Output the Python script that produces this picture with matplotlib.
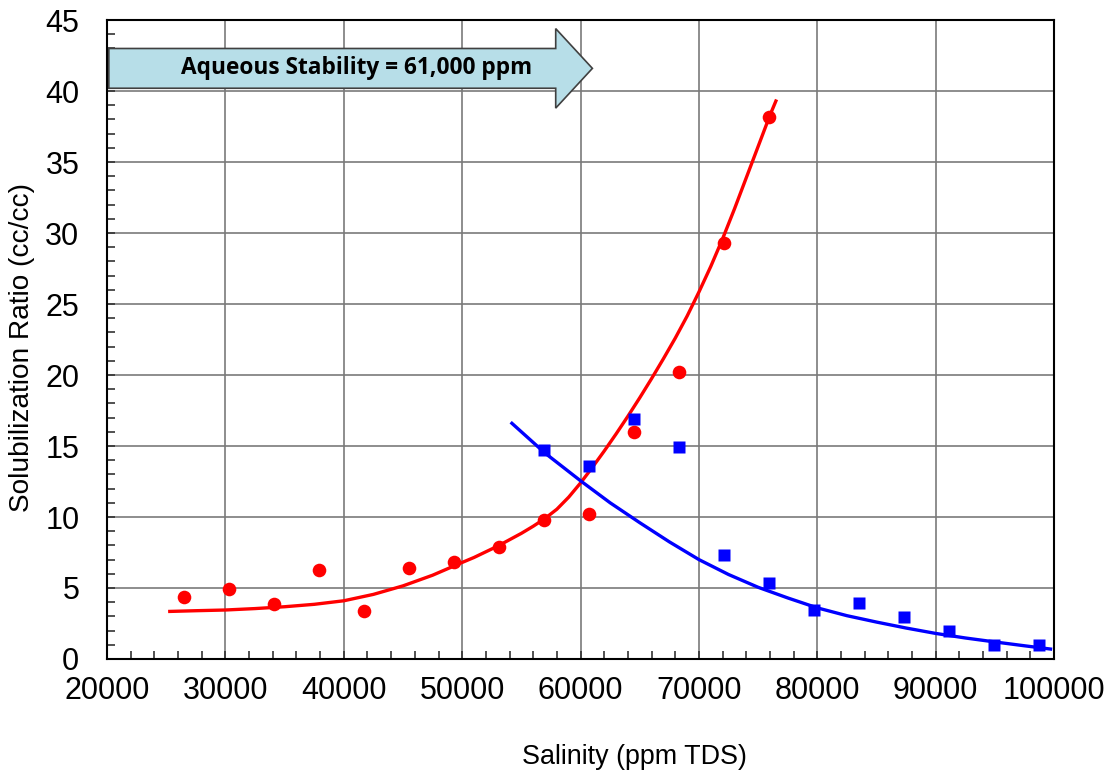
import matplotlib
matplotlib.use("Agg")
import matplotlib.pyplot as plt
from matplotlib.patches import FancyArrow

plt.rcParams['font.family'] = ['Liberation Sans', 'DejaVu Sans']

# measured data
red_x = [26500, 30300, 34100, 37900, 41700, 45500, 49300, 53100, 56900, 60700, 64500, 68300, 72100, 75900]
red_y = [4.37, 4.9, 3.87, 6.3, 3.4, 6.4, 6.8, 7.9, 9.8, 10.2, 16.0, 20.2, 29.3, 38.2]
blue_x = [56900, 60700, 64500, 68300, 72100, 75900, 79700, 83500, 87300, 91100, 94900, 98700]
blue_y = [14.7, 13.6, 16.9, 14.9, 7.35, 5.33, 3.47, 3.92, 2.94, 1.97, 0.99, 0.99]

# trend curves
red_fit_x = [25300, 27500, 30000, 32500, 35000, 37500, 40000, 42500, 45000, 47500, 50000,
             51000, 52000, 53000, 54000, 55000, 56000, 57000, 58000, 59000, 60000, 61000,
             62000, 63000, 64000, 65000, 66000, 67000, 68000, 69000, 70000, 71000, 72000,
             73000, 74000, 75000, 76000, 76500]
red_fit_y = [3.35, 3.4, 3.45, 3.55, 3.68, 3.85, 4.1, 4.55, 5.15, 5.9, 6.8,
             7.15, 7.55, 7.95, 8.4, 8.85, 9.35, 9.9, 10.55, 11.4, 12.4, 13.5,
             14.65, 15.85, 17.1, 18.4, 19.75, 21.15, 22.6, 24.15, 25.85, 27.65, 29.6,
             31.7, 33.9, 36.1, 38.3, 39.3]
blue_fit_x = [54200, 57000, 60000, 62500, 65000, 67500, 70000, 72500, 75000, 77500, 80000,
              82500, 85000, 87500, 90000, 92500, 95000, 97500, 99700]
blue_fit_y = [16.6, 14.5, 12.55, 11.0, 9.6, 8.25, 7.0, 5.95, 5.05, 4.3, 3.6,
              3.05, 2.6, 2.18, 1.8, 1.48, 1.2, 0.93, 0.7]

xticks = list(range(20000, 100001, 10000))
yticks = list(range(0, 46, 5))
stability = 61000
arrow_text = 'Aqueous Stability = 61,000 ppm'

fig = plt.figure(figsize=(11.07, 7.73), dpi=100)
ax = fig.add_axes([0.0967, 0.1475, 0.8555, 0.8265])

ax.plot(red_fit_x, red_fit_y, color='#ff0000', lw=2.4, zorder=3)
ax.plot(blue_fit_x, blue_fit_y, color='#0000ff', lw=2.4, zorder=3)
ax.plot(red_x, red_y, 'o', color='#ff0000', ms=9.8, mec='none', zorder=4)
ax.plot(blue_x, blue_y, 's', color='#0000ff', ms=9.3, mec='none', zorder=4)

ax.set_xlim(20000, 100000)
ax.set_ylim(0, 45)
ax.set_xticks(xticks)
ax.set_yticks(yticks)
ax.set_xticks(range(20000, 100001, 2000), minor=True)
ax.set_yticks(range(0, 46, 1), minor=True)
ax.grid(True, which='major', color='#7a7a7a', lw=1.2)
ax.set_axisbelow(True)
ax.tick_params(which='both', direction='in', length=6, width=1.2, color='#333333')
ax.tick_params(axis='y', which='major', labelsize=22, pad=20)
ax.tick_params(axis='x', which='major', labelsize=22, pad=12)
for s in ax.spines.values():
    s.set_color('black')
    s.set_linewidth(1.5)

ax.set_xlabel('Salinity (ppm TDS)', fontsize=19.4, va='center')
ax.set_ylabel('Solubilization Ratio (cc/cc)', fontsize=20.2, va='center')
ax.xaxis.set_label_coords(0.5565, -0.153)
ax.yaxis.set_label_coords(-0.09, 0.487)

arr = FancyArrow(20150, 41.6, stability - 20150, 0, width=2.8, head_width=5.6,
                 head_length=3100, length_includes_head=True,
                 facecolor='#b7dee8', edgecolor='#404040', lw=1.2, zorder=5)
ax.add_patch(arr)
ax.text(41100, 41.6, arrow_text, ha='center', va='center', fontsize=16.3,
        fontweight='bold', family=['Open Sans', 'DejaVu Sans'], zorder=6)

fig.savefig('out.png', dpi=100)
